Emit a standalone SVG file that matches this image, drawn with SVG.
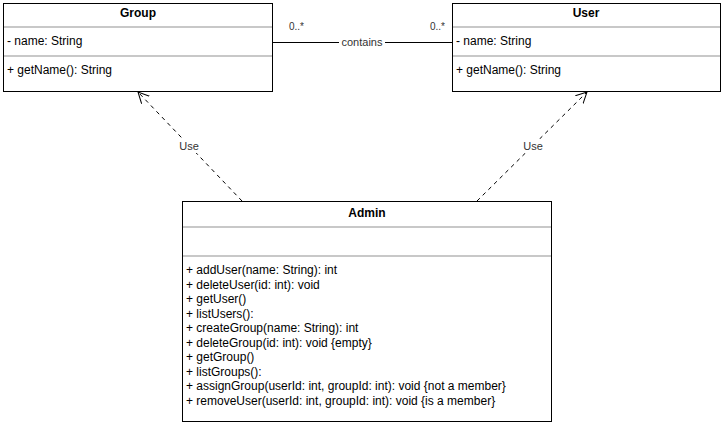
<svg xmlns="http://www.w3.org/2000/svg" width="724" height="427" viewBox="0 0 724 427">
<defs>
<style>
text{font-family:"Liberation Sans",Arial,sans-serif;font-size:12px;fill:#000}
.t{font-weight:bold;text-anchor:middle}
.box{fill:#fff;stroke:#000;stroke-width:1}
.sep{stroke:#c8c8c8;stroke-width:2}
.lbl{fill:#333}
.dash{fill:none;stroke:#000;stroke-width:1;stroke-dasharray:4 4}
</style>
<marker id="open" viewBox="0 0 12 12" refX="11" refY="6" markerWidth="12" markerHeight="12" markerUnits="userSpaceOnUse" orient="auto">
<path d="M0,0.5 L11,6 L0,11.5" fill="none" stroke="#000" stroke-width="1"/>
</marker>
</defs>
<rect width="724" height="427" fill="#fff"/>
<g id="connectors">
<line x1="272.5" y1="42.5" x2="452.5" y2="42.5" stroke="#000"/>
<rect x="339" y="36" width="46" height="12" fill="#fff"/>
<text x="362" y="46" text-anchor="middle" class="lbl" style="font-size:11px">contains</text>
<text x="289" y="30" style="font-size:10px" class="lbl">0..*</text>
<text x="430" y="30" style="font-size:10px" class="lbl">0..*</text>
<line x1="242" y1="201" x2="138" y2="92" class="dash" marker-end="url(#open)"/>
<rect x="175" y="139" width="28" height="14" fill="#fff"/>
<text x="189" y="150" text-anchor="middle" class="lbl" style="font-size:11px">Use</text>
<line x1="477" y1="201" x2="587" y2="92" class="dash" marker-end="url(#open)"/>
<rect x="519" y="139" width="28" height="14" fill="#fff"/>
<text x="533" y="150" text-anchor="middle" class="lbl" style="font-size:11px">Use</text>
</g>
<g id="Group">
<rect x="3.5" y="3.5" width="269" height="88" class="box"/>
<line x1="4" y1="27" x2="272" y2="27" class="sep"/>
<line x1="4" y1="56" x2="272" y2="56" class="sep"/>
<text x="138" y="17" class="t">Group</text>
<text x="7" y="45">- name: String</text>
<text x="7" y="74">+ getName(): String</text>
</g>
<g id="User">
<rect x="452.5" y="3.5" width="268" height="88" class="box"/>
<line x1="453" y1="27" x2="720" y2="27" class="sep"/>
<line x1="453" y1="56" x2="720" y2="56" class="sep"/>
<text x="586" y="17" class="t">User</text>
<text x="456" y="45">- name: String</text>
<text x="456" y="74">+ getName(): String</text>
</g>
<g id="Admin">
<rect x="182.5" y="201.5" width="369" height="220" class="box"/>
<line x1="183" y1="227" x2="551" y2="227" class="sep"/>
<line x1="183" y1="256" x2="551" y2="256" class="sep"/>
<text x="367" y="217" class="t">Admin</text>
<text x="186" y="274">+ addUser(name: String): int</text>
<text x="186" y="288.5">+ deleteUser(id: int): void</text>
<text x="186" y="303">+ getUser()</text>
<text x="186" y="317.5">+ listUsers():</text>
<text x="186" y="332">+ createGroup(name: String): int</text>
<text x="186" y="346.5">+ deleteGroup(id: int): void {empty}</text>
<text x="186" y="361">+ getGroup()</text>
<text x="186" y="375.5">+ listGroups():</text>
<text x="186" y="390">+ assignGroup(userId: int, groupId: int): void {not a member}</text>
<text x="186" y="404.5">+ removeUser(userId: int, groupId: int): void {is a member}</text>
</g>
</svg>
